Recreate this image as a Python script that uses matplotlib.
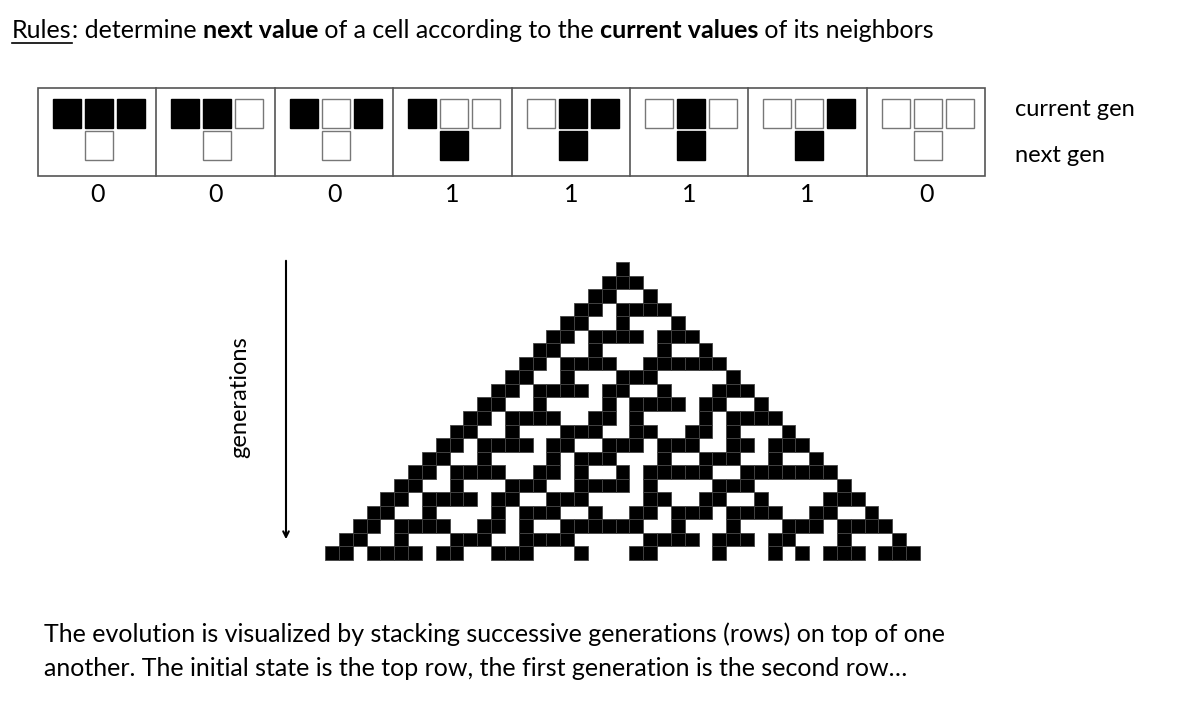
import matplotlib.pyplot as plt
from matplotlib.patches import Rectangle
import numpy as np

# rule table: neighbourhoods 111 .. 000 and the next value
patterns = ['111', '110', '101', '100', '011', '010', '001', '000']
next_vals = [0, 0, 0, 1, 1, 1, 1, 0]
n_rows = 22

plt.rcParams['font.family'] = ['Lato', 'DejaVu Sans']

fig = plt.figure(figsize=(12, 7.12), dpi=100)
ax = fig.add_axes([0, 0, 1, 1])
ax.set_xlim(0, 1200)
ax.set_ylim(712, 0)
ax.axis('off')

# title with bold / underlined parts
parts = [('Rules', 'normal'), (': determine ', 'normal'), ('next value', 'bold'),
         (' of a cell according to the ', 'normal'), ('current values', 'bold'),
         (' of its neighbors', 'normal')]
fig.canvas.draw()
r = fig.canvas.get_renderer()
x = 12
for i, (s, w) in enumerate(parts):
    t = ax.text(x, 30, s, fontsize=18, fontweight=w, va='center', ha='left')
    bb = t.get_window_extent(r)
    if i == 0:
        ax.plot([x, x + bb.width], [43, 43], color='black', lw=1.2)
    x += bb.width

# rule boxes
bx0, bw = 38, 118.4
ax.add_patch(Rectangle((bx0, 88), bw * 8, 88, fill=False, ec='#555555', lw=1.2))
for i, (p, v) in enumerate(zip(patterns, next_vals)):
    left = bx0 + i * bw
    if i > 0:
        ax.plot([left, left], [88, 176], color='#555555', lw=1.2)
    for j, c in enumerate(p):
        on = c == '1'
        ax.add_patch(Rectangle((left + 15 + j * 32, 99), 28, 29,
                               fc='black' if on else 'white',
                               ec='black' if on else '#777777', lw=1))
    ax.add_patch(Rectangle((left + 47, 131), 28, 29,
                           fc='black' if v else 'white',
                           ec='black' if v else '#777777', lw=1))
    ax.text(left + bw / 2, 195, str(v), fontsize=18, ha='center', va='center')

ax.text(1015, 110, 'current gen', fontsize=17, va='center')
ax.text(1015, 155, 'next gen', fontsize=17, va='center')

# cellular automaton evolution
width = 2 * n_rows - 1
grid = np.zeros((n_rows, width), dtype=int)
grid[0, n_rows - 1] = 1
lookup = {p: v for p, v in zip(patterns, next_vals)}
for r_i in range(1, n_rows):
    prev = np.pad(grid[r_i - 1], 1)
    for k in range(width):
        key = '%d%d%d' % (prev[k], prev[k + 1], prev[k + 2])
        grid[r_i, k] = lookup[key]

cw, ch = 595 / width, 298 / n_rows
gx0, gy0 = 325, 262
for r_i in range(n_rows):
    for k in range(width):
        if grid[r_i, k]:
            ax.add_patch(Rectangle((gx0 + k * cw, gy0 + r_i * ch), cw, ch,
                                   fc='black', ec='#444444', lw=0.6))

# generations arrow
ax.annotate('', xy=(286, 542), xytext=(286, 258),
            arrowprops=dict(arrowstyle='->', color='black', lw=1.5))
ax.text(240, 397, 'generations', fontsize=17, rotation=90, ha='center', va='center')

ax.text(44, 634, 'The evolution is visualized by stacking successive generations (rows) on top of one',
        fontsize=18, va='center')
ax.text(44, 669, 'another. The initial state is the top row, the first generation is the second row\u2026',
        fontsize=18, va='center')

fig.savefig('out.png', dpi=100)
